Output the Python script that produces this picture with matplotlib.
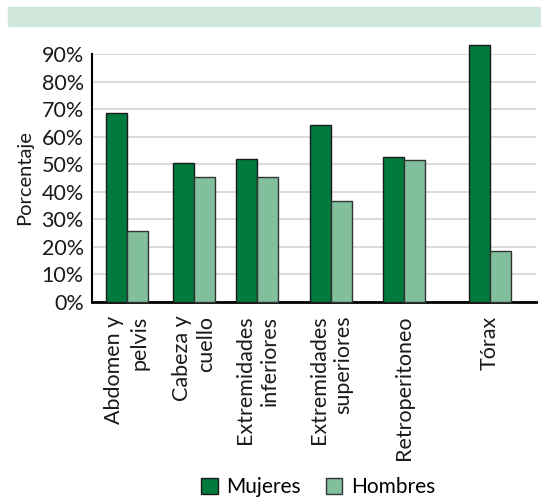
import matplotlib.pyplot as plt
from matplotlib.patches import Rectangle
from matplotlib.ticker import PercentFormatter

plt.rcParams['font.family'] = ['Lato', 'DejaVu Sans']

# Datos (porcentaje)
categorias = ['Abdomen y\npelvis', 'Cabeza y\ncuello', 'Extremidades\ninferiores',
              'Extremidades\nsuperiores', 'Retroperitoneo', 'Tórax']
mujeres = [68.6, 50.3, 51.9, 64.4, 52.7, 93.5]
hombres = [25.8, 45.2, 45.2, 36.6, 51.6, 18.3]
yticks = [0, 10, 20, 30, 40, 50, 60, 70, 80, 90]

# posiciones de los grupos (irregulares en el original)
centros = [126.7, 194, 257, 331, 404, 490]
ancho = 21

verde = '#007a3d'
verde_claro = '#82bf9c'

fig = plt.figure(figsize=(5.41, 4.99), dpi=100)

# banda superior
fig.patches.append(Rectangle((8 / 541, 1 - 26 / 499), 533 / 541, 19 / 499,
                             transform=fig.transFigure, color='#cfe6da', zorder=0))

ax = fig.add_axes([92 / 541, 1 - 301.7 / 499, 444 / 541, 247.4 / 499])
ax.set_xlim(92, 536)
ax.set_ylim(0, 90)

ax.bar([c - ancho / 2 for c in centros], mujeres, width=ancho, color=verde,
       edgecolor='#1a1a1a', linewidth=1, label='Mujeres', clip_on=False, zorder=3)
ax.bar([c + ancho / 2 for c in centros], hombres, width=ancho, color=verde_claro,
       edgecolor='#333333', linewidth=1, label='Hombres', clip_on=False, zorder=3)

ax.set_yticks(yticks)
ax.yaxis.set_major_formatter(PercentFormatter(decimals=0))
ax.yaxis.grid(True, color='#d4d4d4', linewidth=1.2, zorder=0)
ax.set_axisbelow(True)
ax.tick_params(axis='y', length=0, labelsize=15.5, pad=6, labelcolor='#1a1a1a')
ax.tick_params(axis='x', length=0, pad=10)

ax.set_xticks(centros)
ax.set_xticklabels(categorias, rotation=90, fontsize=15.5, ha='center', va='top',
                   multialignment='right', linespacing=1.3, color='#1a1a1a')

ax.set_ylabel('Porcentaje', fontsize=14.5, color='#1a1a1a', labelpad=6)

for s in ['top', 'right']:
    ax.spines[s].set_visible(False)
ax.spines['left'].set_linewidth(1.5)
ax.spines['bottom'].set_linewidth(2)

fig.legend(loc='center', bbox_to_anchor=(318 / 541, 1 - 487 / 499), ncol=2,
           frameon=False, fontsize=15, handlelength=0.8, handleheight=0.8,
           handletextpad=0.4, columnspacing=1.2)

fig.savefig('out.png', dpi=100)
